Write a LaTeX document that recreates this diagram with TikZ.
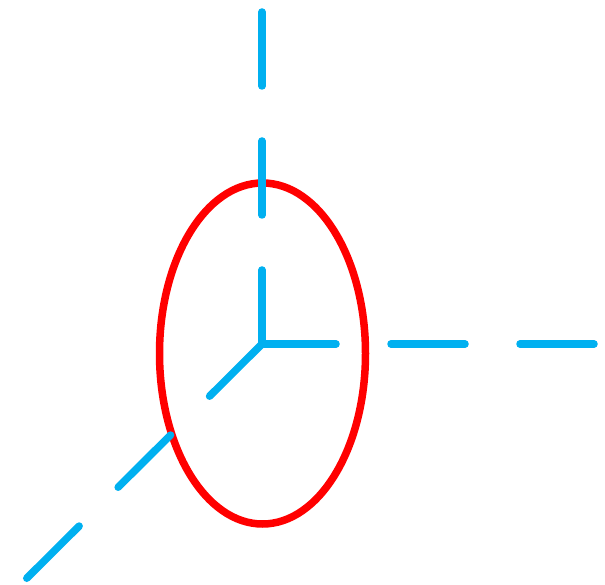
\documentclass[tikz,border=0pt]{standalone}
\definecolor{axblue}{RGB}{0,176,240}
\begin{document}
\begin{tikzpicture}[x=1pt,y=1pt,
  axis/.style={axblue,line width=7.5pt,line cap=round,dash pattern=on 74pt off 55pt},
  ring/.style={red,line width=7.5pt}]
\useasboundingbox (0,0) rectangle (605,584);
\coordinate (O) at (262,240);
\coordinate (U) at (262,574);
\coordinate (R) at (600,240);
\coordinate (D) at (25,4);
\coordinate (C) at (262.5,230.5);
\draw[ring] (C) ellipse [x radius=103, y radius=170.5];
\draw[axis] (O) -- (U);
\draw[axis] (O) -- (R);
\draw[axis] (O) -- (D);
\end{tikzpicture}
\end{document}
